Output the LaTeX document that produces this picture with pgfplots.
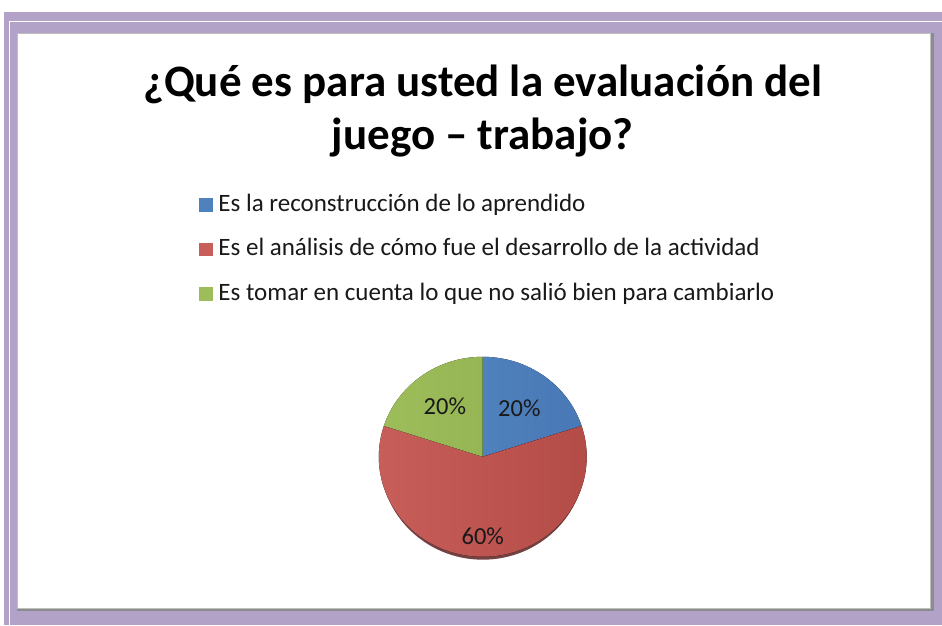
\documentclass[border=0pt]{standalone}
\usepackage{fontspec}
\setmainfont{Carlito}
\usepackage{pgfplots}
\usepackage{pgfplotstable}
\pgfplotsset{compat=1.18}

\definecolor{framepurple}{HTML}{B3A2C7}
\definecolor{panelgray}{HTML}{8C8C8C}
\definecolor{pieblue}{HTML}{4F81BD}
\definecolor{piebluedk}{HTML}{4878B5}
\definecolor{piered}{HTML}{C85E5A}
\definecolor{pireddk}{HTML}{B24A46}
\definecolor{piegreen}{HTML}{9DBD5B}
\definecolor{piegreendk}{HTML}{96B554}
\definecolor{pieshadow}{HTML}{5A2020}

% slice values in percent, label radius fraction, colours
\pgfplotstableread{
value lr light dark
20 0.60 pieblue piebluedk
60 0.80 piered pireddk
20 0.62 piegreen piegreendk
}\piedata

\tikzset{pielabel/.style={font=\fontsize{24.5}{29}\selectfont, text=black!90, inner sep=0pt}}

\begin{document}
\begin{tikzpicture}
\begin{axis}[
  width=942pt, height=625pt, scale only axis,
  xmin=0, xmax=942, ymin=0, ymax=625,
  hide axis, clip=false,
  legend image code/.code={\fill[#1] (0pt,-6.25pt) rectangle (12.5pt,6.25pt);},
  legend style={at={(axis cs:199,432)}, anchor=north west, draw=none, fill=none,
    font=\fontsize{25}{30}\selectfont, text=black!90, row sep=21.5pt,
    inner sep=0pt, nodes={inner sep=0pt, text depth=5pt, text height=18pt},
    /tikz/every odd column/.append style={column sep=6.5pt}},
  legend cell align=left,
]
% frame
\fill[white] (axis cs:0,0) rectangle (axis cs:942,625);
\fill[framepurple] (axis cs:4,0) rectangle (axis cs:942,613);
\draw[white, line width=1pt] (axis cs:9.5,0) -- (axis cs:9.5,603.5) -- (axis cs:942,603.5);
\fill[panelgray] (axis cs:17,14) rectangle (axis cs:934,592);
\fill[black!25] (axis cs:17,16) rectangle (axis cs:931,592);
\fill[white] (axis cs:18,17) rectangle (axis cs:930,591);

% title
\node[anchor=base, font=\fontsize{45}{54}\bfseries\selectfont, text=black]
  at (axis cs:483,528) {¿Qué es para usted la evaluación del};
\node[anchor=base, font=\fontsize{45}{54}\bfseries\selectfont, text=black]
  at (axis cs:483,475) {juego – trabajo?};

% shadow under the pie
\fill[pieshadow, opacity=0.85] (axis cs:483,165) ellipse [x radius=102.5pt, y radius=100pt];

% slices, clockwise from 12 o'clock
\pgfplotstablegetrowsof{\piedata}
\pgfmathtruncatemacro\N{\pgfplotsretval-1}
\def\angA{90}
\pgfplotsforeachungrouped \i in {0,...,\N} {
  \pgfplotstablegetelem{\i}{value}\of\piedata \let\v\pgfplotsretval
  \pgfplotstablegetelem{\i}{lr}\of\piedata \let\lr\pgfplotsretval
  \pgfplotstablegetelem{\i}{light}\of\piedata \let\cl\pgfplotsretval
  \pgfplotstablegetelem{\i}{dark}\of\piedata \let\cd\pgfplotsretval
  \pgfmathsetmacro\angB{\angA-3.6*\v}
  \pgfmathsetmacro\mid{(\angA+\angB)/2}
  \pgfmathsetmacro\lx{483+\lr*104*cos(\mid)}
  \pgfmathsetmacro\ly{168+\lr*100*sin(\mid)}
  \edef\temp{\noexpand\fill[left color=\cl, right color=\cd]
    (axis cs:483,168) -- +(\angA:104pt and 100pt)
    arc[start angle=\angA, end angle=\angB, x radius=104pt, y radius=100pt] -- cycle;
    \noexpand\node[pielabel] at (axis cs:\lx,\ly) {\v\noexpand\%};}
  \temp
  \let\angA\angB
}

\addlegendimage{pieblue}
\addlegendimage{piered}
\addlegendimage{piegreen}
\legend{Es la reconstrucción de lo aprendido,
  Es el análisis de cómo fue el desarrollo de la actividad,
  Es tomar en cuenta lo que no salió bien para cambiarlo}
\end{axis}
\end{tikzpicture}
\end{document}
